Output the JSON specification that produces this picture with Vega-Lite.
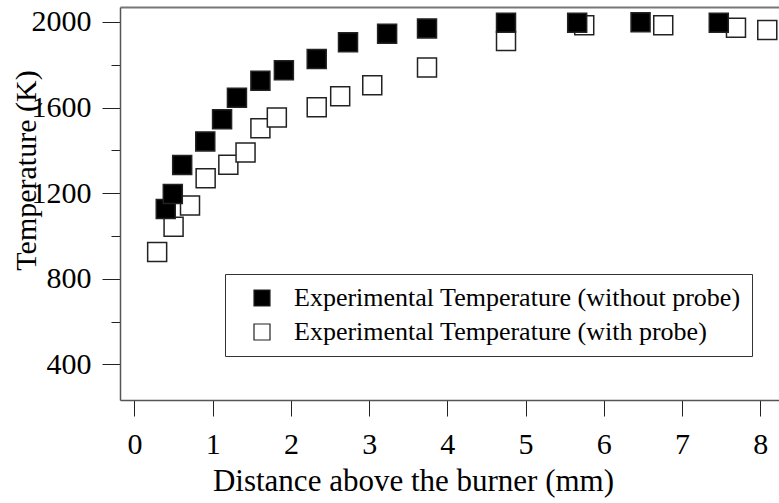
{
  "$schema": "https://vega.github.io/schema/vega-lite/v6.json",
  "width": 659,
  "height": 393,
  "autosize": {"type": "none"},
  "padding": {"left": 120, "top": 7, "right": 0, "bottom": 103},
  "background": "white",
  "config": {
    "view": {"stroke": null},
    "font": "Liberation Serif"
  },
  "data": {
    "values": [
      {"distance": 0.29, "temperature": 925, "series": "Experimental Temperature (with probe)"},
      {"distance": 0.50, "temperature": 1043, "series": "Experimental Temperature (with probe)"},
      {"distance": 0.71, "temperature": 1142, "series": "Experimental Temperature (with probe)"},
      {"distance": 0.91, "temperature": 1270, "series": "Experimental Temperature (with probe)"},
      {"distance": 1.20, "temperature": 1333, "series": "Experimental Temperature (with probe)"},
      {"distance": 1.42, "temperature": 1390, "series": "Experimental Temperature (with probe)"},
      {"distance": 1.61, "temperature": 1504, "series": "Experimental Temperature (with probe)"},
      {"distance": 1.82, "temperature": 1554, "series": "Experimental Temperature (with probe)"},
      {"distance": 2.33, "temperature": 1601, "series": "Experimental Temperature (with probe)"},
      {"distance": 2.63, "temperature": 1653, "series": "Experimental Temperature (with probe)"},
      {"distance": 3.04, "temperature": 1704, "series": "Experimental Temperature (with probe)"},
      {"distance": 3.74, "temperature": 1787, "series": "Experimental Temperature (with probe)"},
      {"distance": 4.75, "temperature": 1911, "series": "Experimental Temperature (with probe)"},
      {"distance": 5.75, "temperature": 1985, "series": "Experimental Temperature (with probe)"},
      {"distance": 6.76, "temperature": 1985, "series": "Experimental Temperature (with probe)"},
      {"distance": 7.69, "temperature": 1973, "series": "Experimental Temperature (with probe)"},
      {"distance": 8.09, "temperature": 1963, "series": "Experimental Temperature (with probe)"},
      {"distance": 0.40, "temperature": 1126, "series": "Experimental Temperature (without probe)"},
      {"distance": 0.49, "temperature": 1196, "series": "Experimental Temperature (without probe)"},
      {"distance": 0.61, "temperature": 1332, "series": "Experimental Temperature (without probe)"},
      {"distance": 0.905, "temperature": 1442, "series": "Experimental Temperature (without probe)"},
      {"distance": 1.12, "temperature": 1546, "series": "Experimental Temperature (without probe)"},
      {"distance": 1.31, "temperature": 1646, "series": "Experimental Temperature (without probe)"},
      {"distance": 1.61, "temperature": 1725, "series": "Experimental Temperature (without probe)"},
      {"distance": 1.91, "temperature": 1774, "series": "Experimental Temperature (without probe)"},
      {"distance": 2.33, "temperature": 1827, "series": "Experimental Temperature (without probe)"},
      {"distance": 2.73, "temperature": 1905, "series": "Experimental Temperature (without probe)"},
      {"distance": 3.23, "temperature": 1945, "series": "Experimental Temperature (without probe)"},
      {"distance": 3.74, "temperature": 1970, "series": "Experimental Temperature (without probe)"},
      {"distance": 4.75, "temperature": 1996, "series": "Experimental Temperature (without probe)"},
      {"distance": 5.66, "temperature": 1996, "series": "Experimental Temperature (without probe)"},
      {"distance": 6.47, "temperature": 1999, "series": "Experimental Temperature (without probe)"},
      {"distance": 7.47, "temperature": 1996, "series": "Experimental Temperature (without probe)"}
    ]
  },
  "layer": [
    {
      "mark": {"type": "point", "opacity": 0},
      "encoding": {
        "x": {
          "field": "distance", "type": "quantitative",
          "scale": {"domain": [-0.185, 8.24], "nice": false, "zero": false},
          "axis": {"orient": "top", "labels": false, "ticks": false, "title": null, "grid": false,
                   "domainColor": "#777", "domainWidth": 2}
        },
        "y": {"field": "temperature", "type": "quantitative"}
      }
    },
    {
      "mark": {"type": "point", "shape": "square", "size": 361, "opacity": 1, "filled": true,
               "stroke": "#222", "strokeWidth": 1.5},
      "encoding": {
        "x": {
          "field": "distance", "type": "quantitative",
          "scale": {"domain": [-0.185, 8.24], "nice": false, "zero": false},
          "axis": {
            "orient": "bottom",
            "values": [0, 1, 2, 3, 4, 5, 6, 7, 8],
            "grid": false,
            "title": "Distance above the burner (mm)",
            "titleFont": "Liberation Serif", "titleFontSize": 31, "titleFontWeight": "normal",
            "titleColor": "black",
            "titleAlign": "center", "titleBaseline": "alphabetic",
            "titleX": 293, "titleY": 90,
            "labelFont": "Liberation Serif", "labelFontSize": 30, "labelColor": "black",
            "labelPadding": 13, "labelFlush": false,
            "tickSize": 16, "tickColor": "#222", "tickWidth": 1,
            "domainColor": "#555", "domainWidth": 1.5
          }
        },
        "y": {
          "field": "temperature", "type": "quantitative",
          "scale": {"domain": [233.6, 2070], "nice": false, "zero": false},
          "axis": {
            "values": [400, 600, 800, 1000, 1200, 1400, 1600, 1800, 2000],
            "labelExpr": "datum.value % 400 === 0 ? datum.label : ''",
            "format": "d",
            "grid": false,
            "title": "Temperature (K)",
            "titleFont": "Liberation Serif", "titleFontSize": 30, "titleFontWeight": "normal",
            "titleColor": "black",
            "titleAngle": -90, "titleAlign": "center", "titleBaseline": "alphabetic",
            "titleX": -85, "titleY": 163,
            "labelFont": "Liberation Serif", "labelFontSize": 30, "labelColor": "black",
            "labelPadding": 11, "labelFlush": false,
            "tickSize": {"condition": {"test": "datum.value % 400 === 0", "value": 18}, "value": 9},
            "tickColor": "#222", "tickWidth": 1,
            "domainColor": "#555", "domainWidth": 1.5
          }
        },
        "fill": {
          "field": "series", "type": "nominal",
          "scale": {
            "domain": ["Experimental Temperature (without probe)", "Experimental Temperature (with probe)"],
            "range": ["black", "white"]
          },
          "legend": {
            "title": null,
            "orient": "none",
            "legendX": 105,
            "legendY": 267,
            "direction": "vertical",
            "padding": 11,
            "strokeColor": "#333",
            "fillColor": "white",
            "symbolType": "square",
            "symbolSize": 256,
            "symbolStrokeColor": "#222",
            "symbolStrokeWidth": 1.2,
            "symbolOffset": 13,
            "labelOffset": 19,
            "labelFont": "Liberation Serif",
            "labelFontSize": 26,
            "labelColor": "black",
            "labelLimit": 1000,
            "rowPadding": 8
          }
        }
      }
    }
  ],
  "resolve": {"axis": {"x": "independent"}}
}
